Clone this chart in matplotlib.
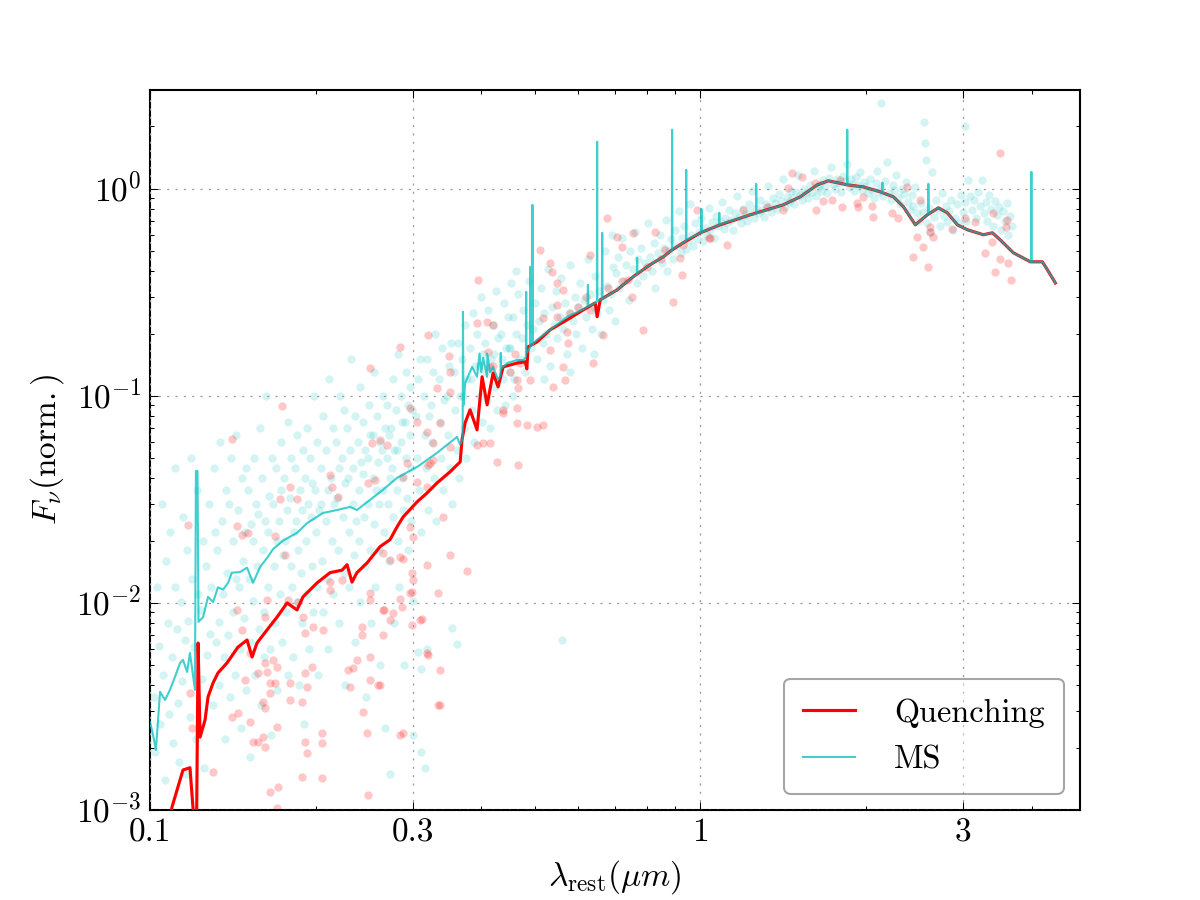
import matplotlib
matplotlib.use('Agg')
import matplotlib.pyplot as plt
import numpy as np
from matplotlib.ticker import FixedLocator, FixedFormatter, LogLocator, NullFormatter

# ---------------- data ----------------
# Quenching model spectrum (rest wavelength in micron, normalised F_nu)
q_lam = [0.1075, 0.1096, 0.1148, 0.1182, 0.1197, 0.1205, 0.1215, 0.1223, 0.1233, 0.1259,
         0.1275, 0.1302, 0.1329, 0.138, 0.1445, 0.1501, 0.1533, 0.1565, 0.1632, 0.1702,
         0.1775, 0.185, 0.1897, 0.2012, 0.2124, 0.2234, 0.2281, 0.2329, 0.2377, 0.248,
         0.2619, 0.273, 0.2812, 0.2884, 0.3059, 0.3189, 0.3325, 0.3511, 0.3662, 0.369,
         0.3738, 0.3817, 0.393, 0.4014, 0.4099, 0.4203, 0.4292, 0.4383, 0.4645, 0.4808,
         0.484, 0.4865, 0.5053, 0.5336, 0.573, 0.6127, 0.6442, 0.6496, 0.658, 0.7063,
         0.7553, 0.811, 0.8563, 0.889, 0.931, 1.0, 1.087, 1.233, 1.416, 1.52,
         1.632, 1.709, 1.85, 1.977, 2.124, 2.244, 2.34, 2.46, 2.587, 2.709,
         2.812, 2.933, 3.059, 3.27, 3.396, 3.508, 3.707, 3.981, 4.186, 4.276, 4.42]
q_flux = [7e-4, 1.03e-3, 1.56e-3, 1.60e-3, 1.03e-3, 8e-4, 8e-4, 6.4e-3, 2.25e-3, 2.72e-3,
          3.52e-3, 4.11e-3, 4.59e-3, 5.13e-3, 6.12e-3, 6.62e-3, 5.48e-3, 6.41e-3, 7.41e-3, 8.55e-3,
          1.0e-2, 9.25e-3, 1.07e-2, 1.25e-2, 1.40e-2, 1.44e-2, 1.53e-2, 1.26e-2, 1.40e-2, 1.56e-2,
          1.87e-2, 2.02e-2, 2.33e-2, 2.60e-2, 3.08e-2, 3.40e-2, 3.80e-2, 4.30e-2, 4.80e-2, 6.13e-2,
          7.41e-2, 8.56e-2, 6.85e-2, 0.1236, 9.05e-2, 0.129, 0.1105, 0.138, 0.144, 0.146,
          0.135, 0.1725, 0.1823, 0.2084, 0.233, 0.26, 0.281, 0.241, 0.291, 0.325,
          0.376, 0.43, 0.469, 0.507, 0.548, 0.613, 0.67, 0.749, 0.837, 0.915,
          1.045, 1.093, 1.045, 1.022, 0.967, 0.915, 0.819, 0.67, 0.749, 0.809,
          0.766, 0.67, 0.634, 0.6, 0.613, 0.567, 0.491, 0.444, 0.444, 0.406, 0.351]

# MS model spectrum (with emission lines)
ms_spec = [(0.1000, 2.66e-3), (0.1013, 2.30e-3), (0.1025, 1.95e-3), (0.1043, 3.72e-3), (0.1065, 3.40e-3),
           (0.1087, 3.80e-3), (0.1110, 4.39e-3), (0.1134, 5.13e-3), (0.1148, 5.31e-3), (0.1168, 4.64e-3),
           (0.1182, 5.73e-3), (0.1207, 3.80e-3), (0.1212, 4.34e-2), (0.1220, 4.34e-2), (0.1225, 8.1e-3),
           (0.1249, 8.55e-3), (0.1275, 1.07e-2), (0.1302, 1.01e-2), (0.1329, 1.19e-2), (0.1358, 1.16e-2),
           (0.1386, 1.25e-2), (0.1409, 1.40e-2), (0.1458, 1.41e-2), (0.1501, 1.48e-2), (0.1539, 1.25e-2),
           (0.1585, 1.49e-2), (0.1632, 1.65e-2), (0.1674, 1.82e-2), (0.1745, 2.0e-2), (0.1850, 2.18e-2),
           (0.1930, 2.43e-2), (0.2063, 2.72e-2), (0.2188, 2.81e-2), (0.2310, 2.91e-2), (0.2377, 2.81e-2),
           (0.2512, 3.15e-2), (0.2652, 3.52e-2), (0.2812, 4.02e-2), (0.3059, 4.54e-2), (0.3325, 5.31e-2),
           (0.3615, 6.34e-2), (0.3660, 5.8e-2), (0.3700, 6.2e-2), (0.3705, 0.2546), (0.3712, 9.0e-2),
           (0.3740, 0.1156), (0.3850, 0.138), (0.3930, 0.1236), (0.3970, 0.16), (0.4000, 0.13),
           (0.4032, 0.1527), (0.4099, 0.1236), (0.4102, 0.16), (0.4150, 0.13), (0.4203, 0.138),
           (0.4292, 0.1195), (0.4335, 0.125), (0.4340, 0.1614), (0.4345, 0.135), (0.4457, 0.144),
           (0.4645, 0.149), (0.4780, 0.149), (0.4822, 0.155), (0.4827, 0.318), (0.4832, 0.16),
           (0.4905, 0.172), (0.4910, 0.42), (0.4915, 0.174), (0.4950, 0.176), (0.4955, 0.837),
           (0.4960, 0.178), (0.5053, 0.187), (0.5336, 0.2084), (0.5730, 0.241), (0.6127, 0.262),
           (0.6240, 0.27), (0.6250, 0.344), (0.6260, 0.27), (0.6442, 0.281), (0.6490, 0.285),
           (0.6496, 1.687), (0.6502, 0.288), (0.6625, 0.292), (0.6635, 0.613), (0.6645, 0.294),
           (0.7063, 0.325), (0.7553, 0.376), (0.7670, 0.385), (0.7680, 0.464), (0.7690, 0.39),
           (0.8110, 0.43), (0.8563, 0.469), (0.8880, 0.505), (0.8890, 1.93), (0.8900, 0.51),
           (0.9310, 0.548), (0.9420, 0.56), (0.9430, 1.235), (0.9440, 0.565), (1.0000, 0.613),
           (1.0040, 0.615), (1.0050, 0.80), (1.0060, 0.617), (1.0820, 0.668), (1.0830, 0.766),
           (1.0840, 0.672), (1.2330, 0.749), (1.2630, 0.76), (1.2640, 1.057), (1.2650, 0.762),
           (1.4160, 0.837), (1.5200, 0.915), (1.6320, 1.045), (1.7090, 1.093), (1.8490, 1.045),
           (1.8500, 1.93), (1.8510, 1.045), (1.9770, 1.022), (2.1240, 0.967), (2.1420, 0.96),
           (2.1430, 1.07), (2.1440, 0.958), (2.2440, 0.915), (2.3400, 0.819), (2.4600, 0.67),
           (2.5870, 0.749), (2.5970, 0.752), (2.5980, 1.057), (2.5990, 0.755), (2.7090, 0.809),
           (2.8120, 0.766), (2.9330, 0.67), (3.0590, 0.634), (3.2700, 0.6), (3.3960, 0.613),
           (3.5080, 0.567), (3.7070, 0.491), (3.9810, 0.444), (3.9970, 0.444), (3.9980, 1.208),
           (3.9990, 0.444), (4.1860, 0.444), (4.2760, 0.406), (4.4200, 0.351)]

# Photometric points of Quenching galaxies
q_points = [(0.1182, 0.00367), (0.1192, 0.00249), (0.1302, 0.00153), (0.1172, 0.0238), (0.1409, 0.062),
            (0.1738, 0.0895), (0.1439, 0.0236), (0.1469, 0.0213), (0.1507, 0.0218), (0.1687, 0.0211),
            (0.1758, 0.0171), (0.1797, 0.0363), (0.185, 0.0318), (0.1722, 0.0318), (0.2124, 0.0415),
            (0.2143, 0.0363), (0.2197, 0.0325), (0.249, 0.038), (0.2533, 0.0593), (0.2619, 0.0613),
            (0.2698, 0.058), (0.2565, 0.0393), (0.2932, 0.0475), (0.306, 0.0384), (0.3203, 0.0464),
            (0.327, 0.0593), (0.3367, 0.0741), (0.341, 0.026), (0.1439, 0.00925), (0.1469, 0.0074),
            (0.1618, 0.00855), (0.1632, 0.0103), (0.1782, 0.0103), (0.1897, 0.00855), (0.1977, 0.00766),
            (0.2063, 0.0074), (0.1914, 0.00716), (0.152, 0.00573), (0.1489, 0.00425), (0.157, 0.00459),
            (0.1618, 0.00513), (0.1674, 0.00531), (0.1702, 0.00491), (0.1632, 0.00464), (0.1653, 0.00411),
            (0.1687, 0.00411), (0.1797, 0.00411), (0.1914, 0.00459), (0.197, 0.00491), (0.193, 0.00393),
            (0.1797, 0.0034), (0.1888, 0.00333), (0.1653, 0.00367), (0.1605, 0.00333), (0.1618, 0.00311),
            (0.1409, 0.00281), (0.1445, 0.00294), (0.152, 0.00266), (0.1702, 0.00251), (0.1538, 0.00213),
            (0.157, 0.00213), (0.1618, 0.00201), (0.1605, 0.00225), (0.2054, 0.00236), (0.2054, 0.00211),
            (0.1914, 0.00213), (0.193, 0.00188), (0.1888, 0.00144), (0.2054, 0.00143), (0.1709, 0.00129),
            (0.1653, 0.00122), (0.1702, 0.00102), (0.249, 0.00118), (0.2481, 0.00236), (0.2438, 0.00297),
            (0.231, 0.00393), (0.234, 0.00485), (0.2377, 0.00531), (0.2291, 0.00475), (0.2512, 0.00425),
            (0.2597, 0.00402), (0.2512, 0.00548), (0.243, 0.00766), (0.243, 0.007), (0.2512, 0.0103),
            (0.2512, 0.0112), (0.2652, 0.00925), (0.2732, 0.00828), (0.2871, 0.00957), (0.2971, 0.0112),
            (0.3097, 0.00828), (0.3189, 0.00573), (0.3339, 0.00322), (0.2884, 0.00236), (0.3008, 0.0129),
            (0.2848, 0.0167), (0.3008, 0.0208), (0.2971, 0.0233), (0.2732, 0.0161), (0.2652, 0.0174),
            (0.2124, 0.0116), (0.2234, 0.0129), (0.2124, 0.0126), (0.1859, 0.0101), (0.2848, 0.0023),
            (0.3367, 0.00322), (0.3367, 0.00475), (0.3203, 0.00561), (0.3123, 0.00837), (0.2995, 0.00783),
            (0.2848, 0.0105), (0.2767, 0.00895), (0.2659, 0.00925), (0.2652, 0.007), (0.2995, 0.0113),
            (0.2995, 0.014), (0.3339, 0.0112), (0.3771, 0.0143), (0.3511, 0.0171), (0.3189, 0.0153),
            (0.2884, 0.0163), (0.2619, 0.00402),
            (0.2512, 0.1365), (0.2848, 0.1725), (0.3203, 0.197), (0.3496, 0.156), (0.3511, 0.1306),
            (0.3948, 0.363), (0.393, 0.2254), (0.4099, 0.2278), (0.4203, 0.2203), (0.4116, 0.1633),
            (0.4151, 0.138), (0.4383, 0.0856), (0.4645, 0.0875), (0.4668, 0.1093), (0.4645, 0.1195),
            (0.4514, 0.1306), (0.4705, 0.144), (0.4909, 0.1195), (0.5053, 0.0708), (0.5182, 0.0725),
            (0.4276, 0.048), (0.5182, 0.238), (0.5117, 0.507), (0.5336, 0.4393), (0.5383, 0.397),
            (0.5495, 0.3516), (0.5636, 0.325), (0.5495, 0.275), (0.5495, 0.241), (0.573, 0.2038),
            (0.5754, 0.1803), (0.5336, 0.1668), (0.631, 0.48), (0.631, 0.26), (0.6776, 0.7244),
            (0.7063, 0.586), (0.7211, 0.525), (0.7553, 0.613), (0.7516, 0.3008), (0.7396, 0.363),
            (0.6391, 0.144), (0.666, 0.197), (0.7874, 0.2084), (0.8281, 0.62), (0.863, 0.507),
            (0.931, 0.5364), (0.9276, 0.384), (0.9874, 0.792), (1.12, 0.5364), (1.042, 0.58),
            (0.893, 0.2844), (0.9196, 0.4645), (0.5636, 0.138), (0.5405, 0.1105), (0.5681, 0.1195),
            (0.3325, 0.1093), (0.3511, 0.1045), (0.2971, 0.0875), (0.306, 0.0749), (0.3189, 0.067),
            (0.3511, 0.0567), (0.327, 0.0491), (0.3189, 0.0363), (0.2884, 0.0406), (0.3228, 0.0475),
            (0.393, 0.058), (0.4032, 0.0593), (0.4151, 0.0593), (0.4383, 0.0828), (0.4645, 0.0741),
            (0.4848, 0.0725), (0.4668, 0.0464), (0.62, 0.3), (0.68, 0.33), (0.72, 0.36),
            (0.8, 0.42), (0.85, 0.46), (0.6, 0.27), (0.58, 0.25), (0.46, 0.16), (0.42, 0.14),
            (1.039, 0.58), (1.47, 1.195), (1.533, 1.143), (1.445, 1.01), (1.625, 0.792),
            (1.674, 0.875), (1.811, 0.819), (1.936, 0.819), (2.063, 0.732), (2.05, 0.828),
            (1.977, 0.915), (2.234, 0.766), (2.291, 0.724), (2.377, 1.022), (2.438, 0.469),
            (2.48, 0.586), (2.512, 0.885), (2.544, 0.525), (2.598, 0.42), (2.62, 0.62),
            (2.652, 0.586), (2.62, 0.655), (2.871, 0.641), (3.034, 0.724), (3.162, 0.693),
            (3.297, 0.491), (3.41, 0.766), (3.508, 0.459), (3.437, 0.397), (3.508, 1.493),
            (3.614, 0.708), (3.63, 0.439), (3.675, 0.363), (3.598, 0.655), (3.396, 0.555),
            (1.618, 1.069), (1.797, 1.105), (1.93, 0.856), (1.738, 0.885), (1.416, 0.792),
            (1.324, 0.819), (1.197, 0.792)]

# Photometric points of MS galaxies
ms_points = [
    (0.1015, 0.0035), (0.1022, 0.0019), (0.1031, 0.012), (0.1038, 0.0062), (0.1044, 0.0026), (0.1052, 0.03),
    (0.1058, 0.0045), (0.1063, 0.0014), (0.1071, 0.016), (0.1077, 0.008), (0.1083, 0.0029), (0.1089, 0.022),
    (0.1096, 0.0055), (0.1101, 0.0021), (0.1108, 0.045), (0.1112, 0.012), (0.1119, 0.0075), (0.1126, 0.0033),
    (0.1131, 0.0017), (0.1138, 0.0101), (0.1144, 0.0042), (0.1149, 0.026), (0.1156, 0.0066), (0.1163, 0.0015),
    (0.1169, 0.018), (0.1174, 0.0082), (0.1182, 0.0028), (0.1188, 0.05), (0.1193, 0.013), (0.1204, 0.0061),
    (0.1211, 0.0022), (0.1218, 0.035), (0.1223, 0.011), (0.1236, 0.0092), (0.1242, 0.0043), (0.1248, 0.02),
    (0.1253, 0.0016), (0.1265, 0.015), (0.1272, 0.0056), (0.1278, 0.03), (0.1284, 0.0071), (0.1293, 0.012),
    (0.1301, 0.0032), (0.1306, 0.045), (0.1312, 0.022), (0.1318, 0.0065), (0.1326, 0.018), (0.1333, 0.0081),
    (0.1337, 0.004), (0.1342, 0.06), (0.1351, 0.025), (0.1356, 0.011), (0.1362, 0.0055), (0.1366, 0.0022),
    (0.1372, 0.035), (0.1381, 0.014), (0.1387, 0.007), (0.1392, 0.03), (0.1398, 0.0035), (0.1402, 0.05),
    (0.1413, 0.02), (0.1418, 0.009), (0.1425, 0.0045), (0.1431, 0.065), (0.1436, 0.013), (0.1446, 0.028),
    (0.1452, 0.012), (0.1457, 0.006), (0.1463, 0.0025), (0.1469, 0.04), (0.1476, 0.016), (0.1482, 0.0085),
    (0.1488, 0.022), (0.1493, 0.045), (0.1497, 0.0038), (0.1506, 0.035), (0.1511, 0.013), (0.1517, 0.0065),
    (0.1521, 0.0018), (0.1527, 0.024), (0.1536, 0.02), (0.1541, 0.0102), (0.1547, 0.05), (0.1552, 0.0045),
    (0.1558, 0.03), (0.1566, 0.015), (0.1571, 0.027), (0.1576, 0.0075), (0.1583, 0.07), (0.1589, 0.0032),
    (0.1598, 0.04), (0.1603, 0.018), (0.1609, 0.009), (0.1614, 0.0055), (0.1618, 0.025), (0.1624, 0.1),
    (0.1636, 0.022), (0.1641, 0.012), (0.1646, 0.033), (0.1652, 0.006), (0.1658, 0.0023), (0.1663, 0.05),
    (0.1676, 0.03), (0.1682, 0.015), (0.1687, 0.008), (0.1693, 0.045), (0.1698, 0.0038), (0.1704, 0.02),
    (0.1716, 0.025), (0.1721, 0.011), (0.1727, 0.06), (0.1732, 0.035), (0.1738, 0.0065), (0.1744, 0.017),
    (0.1755, 0.04), (0.1762, 0.02), (0.1768, 0.009), (0.1773, 0.028), (0.1779, 0.0045), (0.1785, 0.075),
    (0.1796, 0.032), (0.1802, 0.015), (0.1807, 0.05), (0.1813, 0.012), (0.1818, 0.0055), (0.1825, 0.022),
    (0.1836, 0.045), (0.1841, 0.025), (0.1847, 0.0101), (0.1853, 0.065), (0.1858, 0.018), (0.1864, 0.004),
    (0.1874, 0.035), (0.1881, 0.014), (0.1886, 0.028), (0.1892, 0.008), (0.1897, 0.055), (0.1903, 0.0026),
    (0.1914, 0.04), (0.1921, 0.02), (0.1926, 0.011), (0.1932, 0.07), (0.1937, 0.03), (0.1943, 0.006),
    (0.1955, 0.05), (0.1961, 0.026), (0.1966, 0.015), (0.1972, 0.038), (0.1978, 0.009), (0.1984, 0.1),
    (0.1995, 0.035), (0.2003, 0.022), (0.2008, 0.012), (0.2014, 0.06), (0.2019, 0.0045), (0.2025, 0.028),
    (0.2042, 0.045), (0.2048, 0.03), (0.2055, 0.016), (0.2061, 0.08), (0.2066, 0.009), (0.2085, 0.055),
    (0.2091, 0.025), (0.2097, 0.013), (0.2103, 0.035), (0.2109, 0.006), (0.2115, 0.12), (0.2134, 0.04),
    (0.2141, 0.02), (0.2147, 0.07), (0.2152, 0.011), (0.2158, 0.03), (0.2182, 0.06), (0.2189, 0.032),
    (0.2195, 0.018), (0.2201, 0.045), (0.2207, 0.008), (0.2213, 0.1), (0.2235, 0.05), (0.2241, 0.026),
    (0.2248, 0.014), (0.2254, 0.085), (0.2259, 0.038), (0.2266, 0.004), (0.2284, 0.07), (0.2291, 0.04),
    (0.2297, 0.022), (0.2303, 0.012), (0.2309, 0.055), (0.2316, 0.15), (0.2336, 0.045), (0.2342, 0.03),
    (0.2349, 0.017), (0.2355, 0.08), (0.2361, 0.0065), (0.2367, 0.025), (0.2386, 0.06), (0.2393, 0.035),
    (0.2399, 0.02), (0.2405, 0.11), (0.2412, 0.0101), (0.2418, 0.048), (0.2436, 0.075), (0.2443, 0.042),
    (0.2449, 0.026), (0.2456, 0.015), (0.2462, 0.055), (0.2468, 0.0035), (0.2486, 0.05), (0.2493, 0.03),
    (0.2499, 0.09), (0.2506, 0.018), (0.2512, 0.065), (0.2519, 0.008), (0.2538, 0.065), (0.2545, 0.04),
    (0.2551, 0.024), (0.2558, 0.13), (0.2564, 0.012), (0.2571, 0.035), (0.2588, 0.08), (0.2595, 0.048),
    (0.2602, 0.03), (0.2609, 0.018), (0.2615, 0.06), (0.2622, 0.005), (0.2641, 0.055), (0.2648, 0.035),
    (0.2654, 0.1), (0.2661, 0.022), (0.2668, 0.07), (0.2675, 0.0025), (0.2693, 0.09), (0.2701, 0.05),
    (0.2707, 0.03), (0.2714, 0.016), (0.2721, 0.065), (0.2728, 0.04), (0.2746, 0.07), (0.2753, 0.045),
    (0.2761, 0.12), (0.2768, 0.026), (0.2775, 0.008), (0.2781, 0.055), (0.2798, 0.085), (0.2806, 0.055),
    (0.2813, 0.035), (0.2821, 0.02), (0.2828, 0.16), (0.2835, 0.012), (0.2853, 0.1), (0.2861, 0.06),
    (0.2868, 0.04), (0.2876, 0.075), (0.2883, 0.028), (0.2891, 0.005), (0.2907, 0.075), (0.2915, 0.05),
    (0.2923, 0.13), (0.2931, 0.032), (0.2938, 0.09), (0.2946, 0.018), (0.2963, 0.11), (0.2971, 0.065),
    (0.2979, 0.045), (0.2987, 0.025), (0.2995, 0.085), (0.3003, 0.0102),
    (0.273, 0.0015), (0.311, 0.0019), (0.316, 0.0016), (0.300, 0.0023), (0.56, 0.0066), (0.361, 0.0063),
    (0.354, 0.0076), (0.311, 0.0048), (0.319, 0.006), (0.307, 0.0058),
    (0.3042, 0.08), (0.3055, 0.05), (0.3068, 0.12), (0.3081, 0.035), (0.3094, 0.15), (0.3107, 0.022),
    (0.3142, 0.1), (0.3156, 0.065), (0.3169, 0.045), (0.3183, 0.15), (0.3197, 0.028), (0.3211, 0.08),
    (0.3245, 0.09), (0.3259, 0.06), (0.3273, 0.13), (0.3288, 0.04), (0.3302, 0.2), (0.3316, 0.025),
    (0.3352, 0.12), (0.3367, 0.075), (0.3381, 0.05), (0.3396, 0.17), (0.3411, 0.035), (0.3426, 0.095),
    (0.3462, 0.1), (0.3477, 0.065), (0.3492, 0.14), (0.3507, 0.045), (0.3522, 0.18), (0.3538, 0.03),
    (0.3575, 0.13), (0.3591, 0.085), (0.3607, 0.055), (0.3622, 0.18), (0.3638, 0.04), (0.3654, 0.1),
    (0.3692, 0.15), (0.3708, 0.1), (0.3725, 0.07), (0.3741, 0.22), (0.3758, 0.05), (0.3775, 0.12),
    (0.3812, 0.17), (0.3829, 0.12), (0.3846, 0.085), (0.3864, 0.25), (0.3881, 0.06), (0.3898, 0.14),
    (0.3937, 0.2), (0.3955, 0.14), (0.3972, 0.1), (0.3991, 0.3), (0.4009, 0.075), (0.4027, 0.16),
    (0.4066, 0.18), (0.4084, 0.13), (0.4103, 0.095), (0.4121, 0.26), (0.4141, 0.07), (0.4159, 0.15),
    (0.4199, 0.22), (0.4218, 0.16), (0.4237, 0.11), (0.4256, 0.32), (0.4276, 0.085), (0.4295, 0.19),
    (0.4336, 0.2), (0.4356, 0.15), (0.4376, 0.12), (0.4396, 0.28), (0.4416, 0.09), (0.4436, 0.17),
    (0.4478, 0.24), (0.4498, 0.17), (0.4519, 0.13), (0.4539, 0.35), (0.4559, 0.1),
    (0.452, 0.17), (0.456, 0.24), (0.459, 0.12), (0.463, 0.2), (0.466, 0.31), (0.47, 0.15),
    (0.474, 0.19), (0.477, 0.26), (0.481, 0.13), (0.485, 0.22), (0.489, 0.36), (0.493, 0.17),
    (0.497, 0.21), (0.501, 0.28), (0.505, 0.15), (0.509, 0.23), (0.513, 0.33), (0.517, 0.18),
    (0.521, 0.25), (0.525, 0.2), (0.529, 0.41), (0.533, 0.14), (0.538, 0.27), (0.542, 0.22),
    (0.546, 0.32), (0.55, 0.19), (0.555, 0.24), (0.559, 0.37), (0.564, 0.21), (0.568, 0.28),
    (0.572, 0.16), (0.577, 0.25), (0.581, 0.43), (0.586, 0.23), (0.591, 0.3), (0.595, 0.2),
    (0.6, 0.27), (0.605, 0.35), (0.61, 0.17), (0.615, 0.29), (0.62, 0.24), (0.625, 0.46),
    (0.63, 0.31), (0.635, 0.21), (0.64, 0.27), (0.645, 0.38), (0.65, 0.25), (0.656, 0.32),
    (0.661, 0.2), (0.666, 0.29), (0.672, 0.5), (0.677, 0.34), (0.682, 0.26), (0.688, 0.31),
    (0.693, 0.42), (0.699, 0.23), (0.462, 0.4), (0.52, 0.12), (0.58, 0.13), (0.64, 0.16), (0.69, 0.6),
    (0.702, 0.39), (0.709, 0.47), (0.713, 0.33), (0.721, 0.58), (0.727, 0.36), (0.733, 0.43),
    (0.741, 0.29), (0.746, 0.5), (0.754, 0.41), (0.761, 0.62), (0.768, 0.35), (0.772, 0.46),
    (0.781, 0.52), (0.788, 0.38), (0.795, 0.44), (0.803, 0.68), (0.809, 0.47), (0.817, 0.4),
    (0.824, 0.55), (0.829, 0.33), (0.838, 0.49), (0.845, 0.6), (0.851, 0.44), (0.858, 0.52),
    (0.866, 0.71), (0.871, 0.4), (0.879, 0.5), (0.886, 0.57), (0.893, 0.46), (0.899, 0.63),
    (0.907, 0.53), (0.914, 0.78), (0.921, 0.49), (0.928, 0.58), (0.935, 0.66), (0.943, 0.51),
    (0.949, 0.56), (0.958, 0.84), (0.964, 0.6), (0.971, 0.53), (0.979, 0.68), (0.986, 0.57),
    (0.993, 0.62), (1.003, 0.72), (1.011, 0.56), (1.019, 0.65), (1.027, 0.6), (1.036, 0.81),
    (1.043, 0.63), (1.051, 0.69), (1.06, 0.58), (1.068, 0.74), (1.077, 0.66), (1.085, 0.7),
    (1.094, 0.86), (1.103, 0.64), (1.111, 0.72), (1.12, 0.68), (1.13, 0.79), (1.139, 0.71),
    (1.148, 0.63), (1.157, 0.76), (1.167, 0.92), (1.176, 0.73), (1.185, 0.68), (1.195, 0.8),
    (1.204, 0.75), (1.214, 0.7), (1.224, 0.84), (1.234, 0.77), (1.244, 0.98), (1.253, 0.72),
    (1.264, 0.81), (1.274, 0.76), (1.284, 0.88), (1.294, 0.79), (1.305, 0.73), (1.315, 0.84),
    (1.326, 1.03), (1.336, 0.82), (1.347, 0.77), (1.358, 0.9), (1.369, 0.85), (1.38, 0.8),
    (1.391, 0.94), (1.402, 0.87), (1.414, 1.12), (1.425, 0.82), (1.436, 0.91), (1.448, 0.86),
    (1.46, 0.98), (1.471, 0.9), (1.483, 0.84), (1.495, 0.96), (1.507, 1.16), (1.519, 0.93),
    (1.532, 0.88), (1.544, 1.0), (1.557, 0.95), (1.569, 0.9), (1.582, 1.04), (1.595, 0.97),
    (1.608, 1.22), (1.621, 0.92), (1.634, 1.01), (1.648, 1.06), (1.661, 0.98), (1.675, 1.1),
    (1.688, 1.03), (1.702, 0.95), (1.716, 1.13), (1.73, 1.28), (1.744, 1.05), (1.758, 1.0),
    (1.772, 1.12), (1.787, 1.07), (1.801, 0.97), (1.816, 1.15), (1.831, 1.09), (1.846, 1.32),
    (1.861, 1.02), (1.876, 1.11), (1.891, 1.06), (1.907, 0.98), (1.922, 1.14), (1.938, 1.04),
    (1.954, 1.2), (1.969, 0.99), (1.985, 1.08),
    (2.003, 1.03), (2.018, 0.95), (2.034, 1.12), (2.05, 0.99), (2.066, 0.9), (2.083, 1.07),
    (2.099, 1.22), (2.116, 0.97), (2.133, 2.6), (2.133, 1.01), (2.15, 0.92), (2.167, 1.09),
    (2.184, 1.34), (2.201, 0.95), (2.219, 0.88), (2.236, 1.04), (2.254, 0.99), (2.272, 1.16),
    (2.29, 0.91), (2.308, 0.84), (2.327, 1.0), (2.345, 0.94), (2.364, 1.08), (2.383, 0.86),
    (2.402, 0.79), (2.421, 0.93), (2.44, 0.83), (2.46, 1.02), (2.479, 0.76), (2.499, 0.7),
    (2.519, 0.85), (2.539, 0.77), (2.55, 2.1), (2.56, 1.67), (2.57, 1.37), (2.579, 0.68),
    (2.6, 0.81), (2.62, 0.62), (2.641, 1.2), (2.662, 0.73), (2.683, 0.88), (2.705, 0.79),
    (2.726, 0.66), (2.748, 0.95), (2.77, 0.74), (2.792, 0.83), (2.814, 0.69), (2.837, 0.78),
    (2.859, 0.88), (2.882, 0.63), (2.905, 0.72), (2.928, 0.84), (2.952, 0.68), (2.975, 0.93),
    (2.999, 0.77), (3.023, 0.86), (3.03, 2.0), (3.047, 0.7), (3.071, 1.1), (3.096, 0.92),
    (3.12, 0.79), (3.145, 0.88), (3.171, 0.72), (3.196, 0.97), (3.222, 0.83), (3.247, 1.1),
    (3.273, 0.76), (3.3, 0.86), (3.326, 0.7), (3.353, 0.93), (3.38, 0.8), (3.407, 0.66),
    (3.434, 0.87), (3.462, 0.75), (3.49, 0.82), (3.518, 0.63), (3.546, 0.78), (3.575, 0.7),
    (3.603, 0.85), (3.632, 0.6), (3.661, 0.74), (3.69, 0.66)]

x_ticks = [0.1, 0.3, 1, 3]
x_tick_labels = ['0.1', '0.3', '1', '3']

# ---------------- plot ----------------
plt.style.use('classic')
plt.rcParams.update({
    'font.family': 'serif',
    'font.serif': ['cmr10', 'DejaVu Serif'],
    'mathtext.fontset': 'cm',
    'axes.unicode_minus': False,
    'axes.formatter.use_mathtext': True,
})

fig, ax = plt.subplots(figsize=(8, 6), dpi=150)
fig.subplots_adjust(left=0.125, right=0.9, bottom=0.1, top=0.9)

ms_pl, ms_pf = zip(*ms_points)
q_pl, q_pf = zip(*q_points)
ms_l, ms_f = zip(*ms_spec)

ax.plot(ms_pl, ms_pf, 'o', color='c', alpha=0.17, mec='none', ms=4.0, zorder=1)
ax.plot(q_pl, q_pf, 'o', color='r', alpha=0.22, mec='none', ms=4.0, zorder=1)
ax.plot(q_lam, q_flux, color='r', lw=1.5, label='Quenching', zorder=3)
ax.plot(ms_l, ms_f, color='c', lw=1.0, alpha=0.75, label='MS', zorder=4)

ax.set_xscale('log')
ax.set_yscale('log')
ax.set_xlim(0.1, 4.9)
ax.set_ylim(1e-3, 3)
ax.xaxis.set_major_locator(FixedLocator(x_ticks))
ax.xaxis.set_major_formatter(FixedFormatter(x_tick_labels))
ax.xaxis.set_minor_locator(LogLocator(base=10, subs=np.arange(2, 10)))
ax.xaxis.set_minor_formatter(NullFormatter())
ax.tick_params(labelsize=16)
ax.grid(True, which='major', ls=':', color='0.6', lw=0.6)

ax.set_xlabel(r'$\lambda_{\rm rest}(\mu m)$', fontsize=16)
ax.set_ylabel(r'$F_{\nu}({\rm norm.})$', fontsize=16)

leg = ax.legend(loc='lower right', fancybox=True, framealpha=0.35, fontsize=15.5,
                numpoints=1, handlelength=1.6, handletextpad=1.2, borderpad=0.6,
                labelspacing=0.55)

fig.savefig('out.png', dpi=150)
